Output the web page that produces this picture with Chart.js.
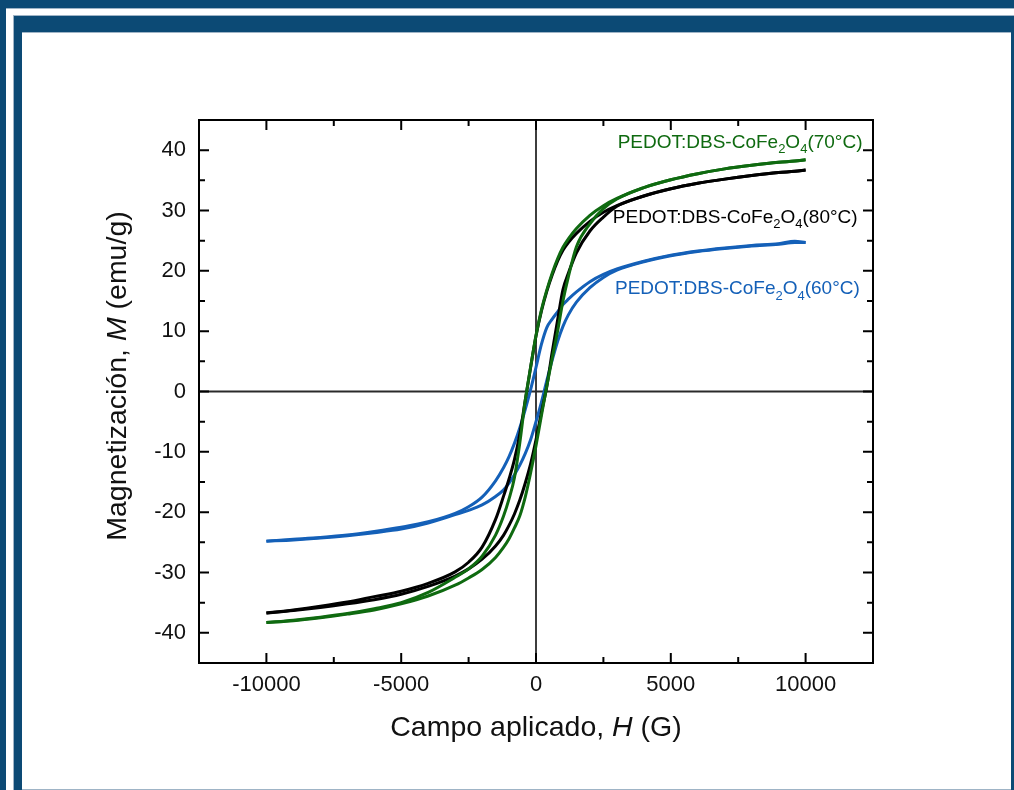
<!DOCTYPE html>
<html>
<head>
<meta charset="utf-8">
<script src="https://cdn.jsdelivr.net/npm/chart.js@4.4.1/dist/chart.umd.min.js"></script>
<style>
  body { margin: 0; width: 1014px; height: 790px; overflow: hidden; background: #fff; position: relative; }
  .band { position: absolute; background: #0c4a75; }
  .hair { position: absolute; background: #9fb4c6; }
  canvas { position: absolute; left: 0; top: 0; }
</style>
</head>
<body>
<div class="band" style="left:0;top:0;width:1014px;height:8px"></div>
<div class="band" style="left:0;top:0;width:6px;height:790px"></div>
<div class="hair" style="left:6px;top:8px;width:1008px;height:1px"></div>
<div class="hair" style="left:13px;top:15px;width:1001px;height:1px"></div>
<div class="hair" style="left:13px;top:15px;width:1px;height:775px"></div>
<div class="band" style="left:14px;top:16px;width:1000px;height:16px"></div>
<div class="band" style="left:14px;top:16px;width:8px;height:774px"></div>
<div class="band" style="left:1011px;top:32px;width:3px;height:758px"></div>
<div class="hair" style="left:22px;top:32px;width:989px;height:1px"></div>
<div class="hair" style="left:22px;top:789px;width:989px;height:1px"></div>
<canvas id="loopChart" width="1014" height="790"></canvas>
<script>
// applied field H (G), same grid for every branch
const hField = [-10000, -9000, -8000, -7000, -6000, -5000, -4000, -3000, -2500, -2000, -1500, -1200, -1000, -800, -600, -400, -200, 0,
                200, 400, 600, 800, 1000, 1200, 1500, 2000, 2500, 3000, 4000, 5000, 6000, 7000, 8000, 9000, 9600, 10000];

// M (emu/g), descending branch (coming from +H) and ascending branch (coming from -H)
const m70Down = [-38.3, -37.9, -37.4, -36.8, -36.0, -35.0, -33.3, -30.8, -29.4, -27.3, -23.8, -20.6, -17.8, -14.3, -8.5, -1.5, 4.0, 9.3,
                 13.5, 16.8, 19.6, 22.0, 23.9, 25.3, 27.0, 29.2, 30.8, 32.0, 33.8, 35.1, 36.1, 36.9, 37.5, 38.0, 38.2, 38.4];
const m70Up   = [-38.3, -38.0, -37.5, -36.9, -36.2, -35.2, -33.9, -32.1, -30.9, -29.5, -27.5, -25.8, -24.4, -22.6, -20.6, -17.5, -13.5, -9.0,
                 -4.0, 0.9, 5.5, 10.0, 15.0, 19.0, 24.0, 27.8, 30.3, 31.9, 33.8, 35.1, 36.1, 36.9, 37.5, 38.0, 38.2, 38.4];

const m80Down = [-36.7, -36.2, -35.6, -34.9, -34.0, -33.1, -31.8, -29.9, -28.3, -25.8, -21.2, -17.3, -14.5, -11.3, -7.0, -1.5, 4.0, 9.2,
                 13.3, 16.6, 19.3, 21.6, 23.4, 24.7, 26.2, 28.2, 29.7, 30.8, 32.4, 33.6, 34.5, 35.2, 35.8, 36.3, 36.5, 36.7];
const m80Up   = [-36.7, -36.3, -35.8, -35.2, -34.5, -33.6, -32.3, -30.6, -29.4, -27.8, -25.6, -23.8, -22.2, -20.3, -18.0, -15.2, -12.0, -8.0,
                 -3.5, 0.8, 6.5, 11.8, 16.9, 19.6, 23.0, 26.6, 28.9, 30.7, 32.4, 33.6, 34.5, 35.2, 35.8, 36.3, 36.5, 36.7];

const m60Down = [-24.8, -24.5, -24.2, -23.8, -23.2, -22.5, -21.6, -20.2, -19.1, -17.5, -14.8, -12.6, -10.8, -8.6, -6.0, -3.0, 0.3, 4.0,
                 7.8, 10.6, 12.0, 13.2, 14.4, 15.3, 16.5, 18.2, 19.4, 20.3, 21.6, 22.6, 23.3, 23.8, 24.2, 24.5, 24.9, 24.7];
const m60Up   = [-24.8, -24.6, -24.3, -23.9, -23.4, -22.8, -21.8, -20.4, -19.7, -18.8, -17.4, -16.3, -15.2, -13.8, -12.2, -10.3, -8.0, -5.0,
                 -1.8, 1.8, 5.2, 8.3, 10.8, 12.7, 14.8, 17.2, 18.9, 20.1, 21.5, 22.5, 23.2, 23.7, 24.1, 24.4, 24.7, 24.7];

const seriesNames = ['PEDOT:DBS-CoFe2O4(70°C)', 'PEDOT:DBS-CoFe2O4(80°C)', 'PEDOT:DBS-CoFe2O4(60°C)'];
const xTicks = [-10000, -5000, 0, 5000, 10000];
const xMinorTicks = [-7500, -2500, 2500, 7500];
const yTicks = [-40, -30, -20, -10, 0, 10, 20, 30, 40];
const yMinorTicks = [-35, -25, -15, -5, 5, 15, 25, 35];

const colors = ['#0f6a10', '#000000', '#1460b8'];
// where each name sits (right end, baseline) in data units
const nameAnchors = [[12110, 40.4], [11930, 28.0], [12010, 16.1]];
const FONT = '"Liberation Sans", Arial, sans-serif';

function branch(values, color) {
    return {
        data: hField.map((h, i) => ({ x: h, y: values[i] })),
        borderColor: color,
        borderWidth: 3,
        pointRadius: 0,
        showLine: true,
        fill: false,
        cubicInterpolationMode: 'monotone'
    };
}

// text with chemical subscripts (a digit right after a letter)
function drawFormula(ctx, text, right, baseline, size, color) {
    const parts = [];
    for (let i = 0; i < text.length; i++) {
        const sub = /\d/.test(text[i]) && i > 0 && /[A-Za-z]/.test(text[i - 1]);
        const last = parts[parts.length - 1];
        if (last && last.sub === sub) last.t += text[i];
        else parts.push({ t: text[i], sub: sub });
    }
    const subSize = Math.round(size * 0.66);
    let width = 0;
    parts.forEach(p => {
        ctx.font = (p.sub ? subSize : size) + 'px ' + FONT;
        p.w = ctx.measureText(p.t).width;
        width += p.w;
    });
    let x = right - width;
    ctx.fillStyle = color;
    ctx.textBaseline = 'alphabetic';
    ctx.textAlign = 'left';
    parts.forEach(p => {
        ctx.font = (p.sub ? subSize : size) + 'px ' + FONT;
        ctx.fillText(p.t, x, baseline + (p.sub ? size * 0.28 : 0));
        x += p.w;
    });
}

function drawTitle(ctx, pieces, cx, cy, size, rotate) {
    ctx.save();
    ctx.translate(cx, cy);
    if (rotate) ctx.rotate(-Math.PI / 2);
    let width = 0;
    pieces.forEach(p => {
        ctx.font = (p[1] ? 'italic ' : '') + size + 'px ' + FONT;
        width += ctx.measureText(p[0]).width;
    });
    let x = -width / 2;
    ctx.fillStyle = '#111';
    ctx.textBaseline = 'middle';
    ctx.textAlign = 'left';
    pieces.forEach(p => {
        ctx.font = (p[1] ? 'italic ' : '') + size + 'px ' + FONT;
        ctx.fillText(p[0], x, 0);
        x += ctx.measureText(p[0]).width;
    });
    ctx.restore();
}

const framePlugin = {
    id: 'frame',
    beforeDatasetsDraw(chart) {
        const { ctx, chartArea: a, scales: { x, y } } = chart;
        ctx.save();
        ctx.strokeStyle = '#2a2a2a';
        ctx.lineWidth = 1.8;
        const x0 = x.getPixelForValue(0), y0 = y.getPixelForValue(0);
        ctx.beginPath();
        ctx.moveTo(x0, a.top); ctx.lineTo(x0, a.bottom);
        ctx.moveTo(a.left, y0); ctx.lineTo(a.right, y0);
        ctx.stroke();
        ctx.restore();
    },
    afterDatasetsDraw(chart) {
        const { ctx, chartArea: a, scales: { x, y } } = chart;
        ctx.save();
        ctx.strokeStyle = '#000';
        ctx.lineWidth = 2;
        ctx.strokeRect(a.left, a.top, a.right - a.left, a.bottom - a.top);
        ctx.beginPath();
        const tickX = (vals, len) => vals.forEach(v => {
            const px = x.getPixelForValue(v);
            ctx.moveTo(px, a.bottom); ctx.lineTo(px, a.bottom - len);
            ctx.moveTo(px, a.top); ctx.lineTo(px, a.top + len);
        });
        const tickY = (vals, len) => vals.forEach(v => {
            const py = y.getPixelForValue(v);
            ctx.moveTo(a.left, py); ctx.lineTo(a.left + len, py);
            ctx.moveTo(a.right, py); ctx.lineTo(a.right - len, py);
        });
        tickX(xTicks, 10); tickX(xMinorTicks, 6);
        tickY(yTicks, 10); tickY(yMinorTicks, 6);
        ctx.stroke();

        seriesNames.forEach((name, i) => {
            drawFormula(ctx, name, x.getPixelForValue(nameAnchors[i][0]), y.getPixelForValue(nameAnchors[i][1]), 19, colors[i]);
        });
        ctx.restore();

        drawTitle(ctx, [['Campo aplicado, ', false], ['H', true], [' (G)', false]], 536, 728, 28.5, false);
        drawTitle(ctx, [['Magnetización, ', false], ['M', true], [' (emu/g)', false]], 118, 376, 28.5, true);
    }
};

const ctx = document.getElementById('loopChart').getContext('2d');

new Chart(ctx, {
    type: 'scatter',
    data: {
        datasets: [
            branch(m70Down, colors[0]), branch(m70Up, colors[0]),
            branch(m80Down, colors[1]), branch(m80Up, colors[1]),
            branch(m60Down, colors[2]), branch(m60Up, colors[2])
        ]
    },
    options: {
        responsive: false,
        animation: false,
        layout: { padding: { left: 0, top: 120, right: 141, bottom: 0 } },
        plugins: { legend: { display: false }, tooltip: { enabled: false } },
        scales: {
            x: {
                min: -12500, max: 12500,
                grid: { display: false, drawTicks: false },
                border: { display: false },
                ticks: { font: { size: 22, family: FONT }, color: '#111', padding: 9, maxRotation: 0, callback: v => String(v) },
                afterBuildTicks: s => { s.ticks = xTicks.map(v => ({ value: v })); },
                afterFit: s => { s.height = 127; }
            },
            y: {
                min: -45, max: 45,
                grid: { display: false, drawTicks: false },
                border: { display: false },
                ticks: { font: { size: 22, family: FONT }, color: '#111', padding: 13, callback: v => String(v) },
                afterBuildTicks: s => { s.ticks = yTicks.map(v => ({ value: v })); },
                afterFit: s => { s.width = 199; }
            }
        }
    },
    plugins: [framePlugin]
});
</script>
</body>
</html>
